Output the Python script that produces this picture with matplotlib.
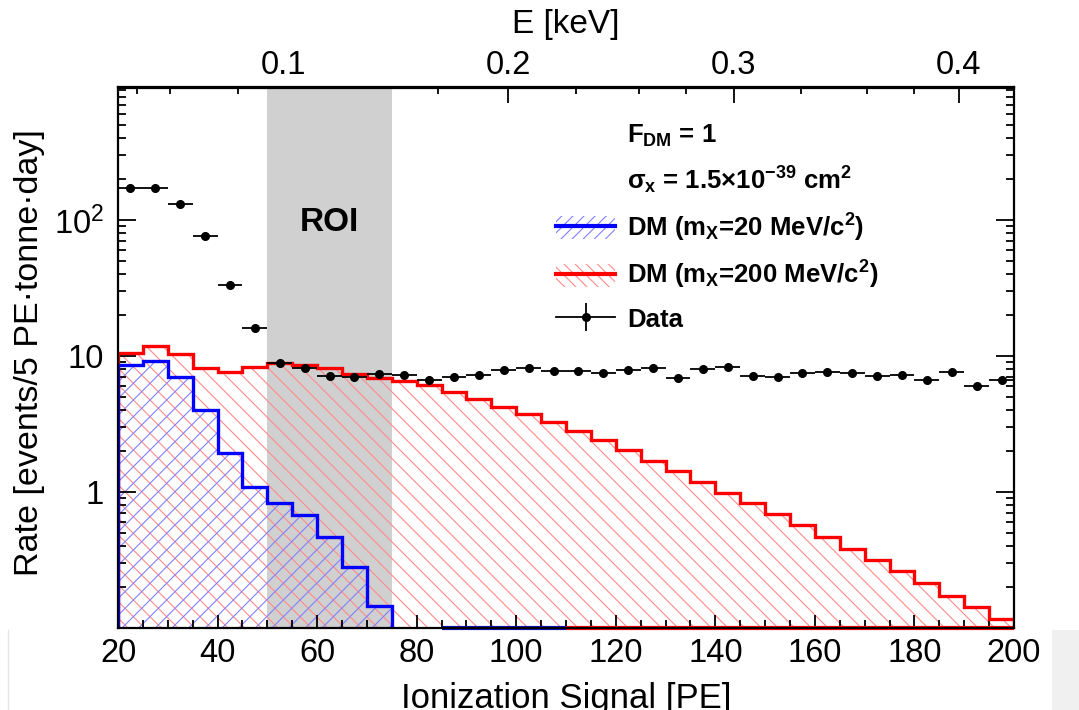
import numpy as np
import matplotlib
matplotlib.use("Agg")
import matplotlib.pyplot as plt
from matplotlib.patches import Patch, Rectangle
from matplotlib.lines import Line2D
from matplotlib.ticker import FixedLocator, LogLocator, NullFormatter

plt.rcParams['font.family'] = ['Liberation Sans', 'DejaVu Sans']
plt.rcParams['mathtext.fontset'] = 'custom'
plt.rcParams['mathtext.rm'] = 'Liberation Sans'
plt.rcParams['mathtext.bf'] = 'Liberation Sans:bold'
plt.rcParams['mathtext.default'] = 'regular'
plt.rcParams['hatch.linewidth'] = 0.8

# 5 PE bins, 20 -> 200 PE
edges = np.arange(20, 201, 5)

# DM m_X = 200 MeV/c2
red_vals = [10.47, 11.85, 10.35, 8.12, 7.59, 8.26, 8.84, 8.59, 8.12, 7.33, 6.92, 6.55,
            6.12, 5.47, 4.81, 4.24, 3.75, 3.29, 2.82, 2.41, 2.04, 1.70, 1.43, 1.19,
            0.99, 0.826, 0.685, 0.569, 0.464, 0.381, 0.316, 0.261, 0.213, 0.173, 0.1435, 0.116]

# DM m_X = 20 MeV/c2 (bins 20 -> 75 PE)
blue_edges = np.arange(20, 76, 5)
blue_vals = [8.59, 9.25, 7.04, 4.01, 1.92, 1.09, 0.826, 0.677, 0.464, 0.282, 0.145]
# bins drawn on the floor of the plot (below the y range)
blue_floor = [85, 110]
red_floor = [110, 200]

# data
data_x = edges[:-1] + 2.5
data_y = [171, 171, 130, 76.3, 33.3, 16.0, 8.93, 8.12, 7.17, 7.04, 7.33, 7.2,
          6.66, 6.97, 7.25, 7.89, 8.12, 7.76, 7.76, 7.46, 7.85, 8.16, 6.93, 8.07,
          8.35, 7.17, 6.97, 7.5, 7.63, 7.5, 7.17, 7.25, 6.62, 7.63, 6.01, 6.7]

roi = [50, 75]
ymin, ymax = 0.1, 940

# top axis: E [keV] vs PE (linear)
e_ticks = [0.1, 0.2, 0.3, 0.4]
e_minor = [0.035, 0.05, 0.08, 0.12, 0.142, 0.169, 0.23, 0.258, 0.279, 0.33, 0.359, 0.38]
pe_ref, e_ref, e_slope = 53.15, 0.1, 0.0022093


def pe2e(pe):
    return e_ref + (np.asarray(pe) - pe_ref) * e_slope


def e2pe(e):
    return pe_ref + (np.asarray(e) - e_ref) / e_slope


fig = plt.figure(figsize=(10.79, 7.10), dpi=100)
ax = fig.add_axes([118 / 1079, 1 - 628 / 710, 896 / 1079, 540.5 / 710])

ax.axvspan(roi[0], roi[1], color='#d0d0d0', lw=0, zorder=0.5)

ax.stairs(red_vals, edges, baseline=1e-3, fill=True, facecolor='none',
          edgecolor='#ff8a8a', hatch='\\\\', lw=0, zorder=1)
ax.stairs(blue_vals, blue_edges, baseline=1e-3, fill=True, facecolor='none',
          edgecolor='#8080ff', hatch='//', lw=0, zorder=1.1)
ax.stairs(red_vals, edges, baseline=1e-3, fill=False, color='red', lw=2.4, zorder=2)
ax.stairs(blue_vals, blue_edges, baseline=1e-3, fill=False, color='blue', lw=2.4, zorder=2.1)
ax.hlines(ymin, red_floor[0], red_floor[1], color='red', lw=3, zorder=2.2, clip_on=False)
ax.hlines(ymin, blue_floor[0], blue_floor[1], color='#1010c0', lw=3, zorder=2.3, clip_on=False)

ax.errorbar(data_x, data_y, xerr=2.5, fmt='o', color='black', ms=5.5,
            elinewidth=1.3, capsize=0, zorder=5)

ax.text(np.mean(roi), 96, 'ROI', ha='center', va='center', fontsize=24, fontweight='bold', zorder=6)

ax.set_xlim(20, 200)
ax.set_yscale('log')
ax.set_ylim(ymin, ymax)

ax.xaxis.set_major_locator(FixedLocator(np.arange(20, 201, 20)))
ax.xaxis.set_minor_locator(FixedLocator(np.arange(20, 201, 5)))
ax.yaxis.set_major_locator(FixedLocator([1, 10, 100]))
ax.set_yticklabels(['1', '10', r'$10^{2}$'])
ax.yaxis.set_minor_locator(LogLocator(base=10, subs=np.arange(2, 10), numticks=20))
ax.yaxis.set_minor_formatter(NullFormatter())

ax.tick_params(which='both', direction='in', top=False, right=True, width=1.3, labelsize=23.5)
ax.tick_params(axis='x', which='major', length=9.5, pad=7)
ax.tick_params(axis='x', which='minor', length=5.5)
ax.tick_params(axis='y', which='major', length=13, pad=10)
ax.tick_params(axis='y', which='minor', length=5.5)
for s in ax.spines.values():
    s.set_linewidth(1.6)

sec = ax.secondary_xaxis('top', functions=(pe2e, e2pe))
sec.set_xticks(e_ticks)
sec.set_xticklabels(['0.1', '0.2', '0.3', '0.4'])
sec.xaxis.set_minor_locator(FixedLocator(e_minor))
sec.tick_params(which='both', direction='in', width=1.3, labelsize=23.5, pad=5)
sec.tick_params(which='major', length=11.5)
sec.tick_params(which='minor', length=5)
sec.spines['top'].set_linewidth(1.6)

fig.text(566 / 1079, 1 - 25 / 710, 'E [keV]', ha='center', va='center', fontsize=24)
fig.text(566 / 1079, 2 / 710, 'Ionization Signal [PE]', ha='center', va='baseline', fontsize=25)
fig.text(30 / 1079, 1 - 353 / 710, 'Rate [events/5 PE\u00b7tonne\u00b7day]', ha='center', va='center',
         rotation=90, fontsize=24.5)

blank = Patch(facecolor='none', edgecolor='none')
h_blue = (Patch(facecolor='none', edgecolor='#8080ff', hatch='///', lw=0),
          Line2D([], [], color='blue', lw=3))
h_red = (Patch(facecolor='none', edgecolor='#ff8a8a', hatch='\\\\\\', lw=0),
         Line2D([], [], color='red', lw=3))
h_data = (Line2D([], [], color='black', marker='o', ms=5.5, lw=1.3),
          Line2D([], [], color='black', marker='|', ms=20, mew=1.3, ls='none'))
labels = [r'F$_{DM}$ = 1',
          r'$\sigma_{x}$ = 1.5$\times$10$^{-39}$ cm$^{2}$',
          r'DM (m$_{X}$=20 MeV/c$^{2}$)',
          r'DM (m$_{X}$=200 MeV/c$^{2}$)',
          'Data']
ax.legend([blank, blank, h_blue, h_red, h_data], labels, loc='upper left',
          bbox_to_anchor=(0.489, 0.936), frameon=False,
          prop={'weight': 'bold', 'size': 18.5}, handlelength=2.3, handleheight=1.0,
          handletextpad=0.47, labelspacing=0.61, borderpad=0, borderaxespad=0)

# screenshot margin artefacts
fig.patches.append(Rectangle((1052 / 1079, 0), 27 / 1079, 80 / 710, transform=fig.transFigure,
                             facecolor='#f0f0f0', edgecolor='none', zorder=-1))
fig.add_artist(Line2D([8 / 1079, 8 / 1079], [0, 80 / 710], color='#e6e6e6', lw=1))

fig.savefig('out.png', dpi=100)
